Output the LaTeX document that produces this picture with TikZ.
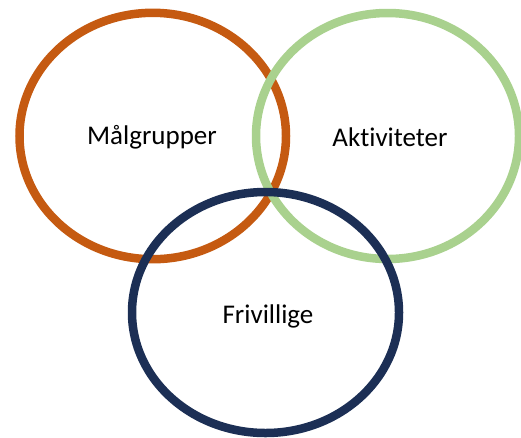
\documentclass[tikz,border=0pt]{standalone}
\usepackage{fontspec}
\setmainfont[Ligatures=NoCommon]{Carlito}
\definecolor{ringorange}{HTML}{C55A11}
\definecolor{ringgreen}{HTML}{A9D18E}
\definecolor{ringnavy}{HTML}{1C2F55}
\begin{document}
\begin{tikzpicture}[x=1pt,y=-1pt,
  ring/.style={line width=8.5pt},
  label/.style={font=\fontsize{27}{32}\selectfont, text=black, inner sep=0pt}]
\useasboundingbox (0,0) rectangle (521,437);
\begin{scope}
\clip (0,0) rectangle (521,437);
% three overlapping rings
\draw[ring, ringorange] (152.75,136) ellipse [x radius=133.25, y radius=123.2];
\draw[ring, ringgreen] (387.5,136) ellipse [x radius=131.5, y radius=123];
\draw[ring, ringnavy] (265.5,312.5) ellipse [x radius=133.5, y radius=120.5];
\end{scope}
% ring labels
\node[label] (malgrupper) at (152,137) {Målgrupper};
\node[label] (aktiviteter) at (390,137) {Aktiviteter};
\node[label] (frivillige) at (268,316) {Frivillige};
\end{tikzpicture}
\end{document}
